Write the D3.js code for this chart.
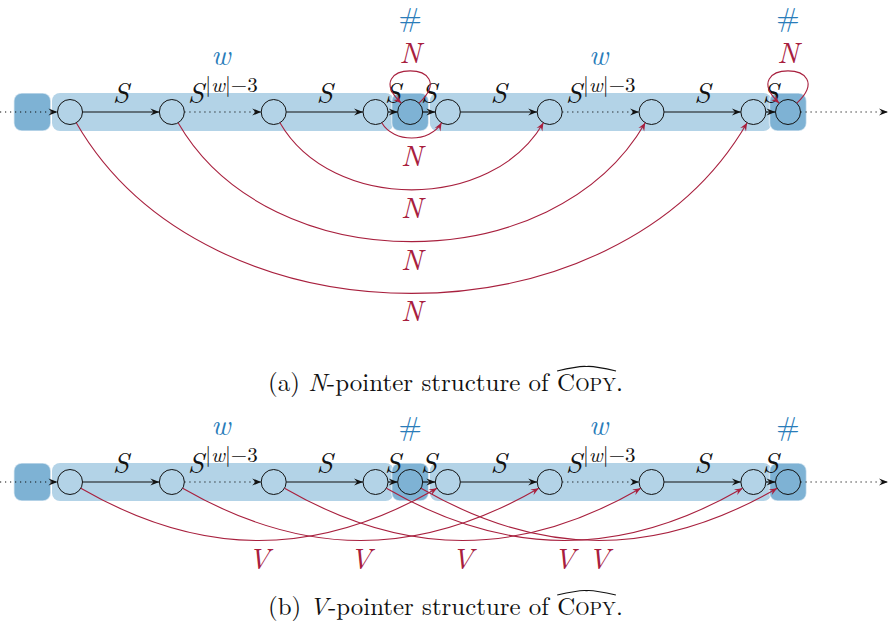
<!DOCTYPE html>
<html><head><meta charset="utf-8">
<script src="https://cdn.jsdelivr.net/npm/d3@7/dist/d3.min.js"></script>
<style>body{margin:0;background:#fff} svg{display:block}</style>
</head><body>
<svg id="c" width="889" height="633"></svg>
<script>
// ---------- data ----------
const nodePos   = [0, 1, 2, 3, 3.34, 3.71, 4.71, 5.71, 6.71, 7.05];
const nodeKind  = ["w","w","w","w","#","w","w","w","w","#"];
const hashBoxPos = [-0.37, 3.34, 7.05];
const wBands    = [[0, 3], [3.71, 6.71]];
const edgeFrom  = [0, 1, 2, 3, 4, 5, 6, 7, 8];
const edgeTo    = [1, 2, 3, 4, 5, 6, 7, 8, 9];
const edgeLabel = ["S", "S^", "S", "S", "S", "S", "S^", "S", "S"];
const edgeStyle = ["solid","dotted","solid","solid","solid","solid","dotted","solid","solid"];
const wLabelAt  = [[1, 2], [6, 7]];
const hashLabelAt = [4, 9];
const nPointers = [[3, 5], [2, 6], [1, 7], [0, 8]];
const nLoops    = [4, 9];
const vPointers = [[0, 5], [1, 6], [2, 7], [3, 8], [4, 9]];
const captions  = [["(a) ", "N", "-pointer structure of "], ["(b) ", "V", "-pointer structure of "]];

// ---------- setup ----------
const W = 889, H = 633;
const svg = d3.select("#c");
const x = d3.scaleLinear().domain([0, 7.05]).range([70, 788]);
const rows = [112, 482];
const R = 12.5;
const LIGHT = "#b3d3e7", DARK = "#7eb2d4", RED = "#a8203e", BLUE = "#2a7cb9", INK = "#111";
const FONT = '"Latin Modern Roman", "Liberation Serif", serif';
const defs = svg.append("defs");
function marker(id, color, len, hw) {
  defs.append("marker").attr("id", id).attr("markerUnits", "userSpaceOnUse")
    .attr("viewBox", `${-len - 1} ${-hw - 1} ${len + 2} ${2 * hw + 2}`)
    .attr("refX", 0).attr("refY", 0)
    .attr("markerWidth", len + 2).attr("markerHeight", 2 * hw + 2)
    .attr("orient", "auto")
    .append("path")
    .attr("d", `M0,0 L${-len},${-hw} L${-len * 0.65},0 L${-len},${hw} Z`)
    .attr("fill", color);
}
marker("ab", INK, 9, 3.6);
marker("ar", RED, 8, 3.3);

function bend(a, b, y, thetaDeg) {
  const t = thetaDeg * Math.PI / 180;
  const x0 = x(nodePos[a]), x3 = x(nodePos[b]);
  const p0 = [x0 + R * Math.cos(t), y + R * Math.sin(t)];
  const p3 = [x3 - R * Math.cos(t), y + R * Math.sin(t)];
  const d = Math.hypot(p3[0] - p0[0], p3[1] - p0[1]);
  const L = 0.3915 * d;
  const p1 = [p0[0] + L * Math.cos(t), p0[1] + L * Math.sin(t)];
  const p2 = [p3[0] - L * Math.cos(t), p3[1] + L * Math.sin(t)];
  const p = d3.path();
  p.moveTo(...p0); p.bezierCurveTo(...p1, ...p2, ...p3);
  const bottom = p0[1] + 0.75 * L * Math.sin(t);
  return {d: p.toString(), midX: (p0[0] + p3[0]) / 2, bottom};
}

function mathText(g, xx, yy, fill, size) {
  return g.append("text").attr("x", xx).attr("y", yy).attr("text-anchor", "middle")
    .style("font-family", FONT).attr("font-size", size).attr("fill", fill);
}

function drawPanel(k) {
  const cy = rows[k];
  const g = svg.append("g");
  g.selectAll(".band").data(wBands).join("rect")
    .attr("x", d => x(d[0]) - 18).attr("y", cy - 19)
    .attr("width", d => x(d[1]) - x(d[0]) + 36).attr("height", 38)
    .attr("rx", 8).attr("fill", LIGHT);
  g.selectAll(".hb").data(hashBoxPos).join("rect")
    .attr("x", d => x(d) - 18.5).attr("y", cy - 19)
    .attr("width", 37).attr("height", 38).attr("rx", 8)
    .attr("fill", DARK).attr("stroke", "#fff").attr("stroke-opacity", 0.55).attr("stroke-width", 1.5);
  g.append("line").attr("x1", 0).attr("x2", x(nodePos[0]) - R).attr("y1", cy).attr("y2", cy)
    .attr("stroke", INK).attr("stroke-width", 1.2).attr("stroke-dasharray", "1.2 3.8")
    .attr("marker-end", "url(#ab)");
  g.append("line").attr("x1", x(nodePos[9]) + R).attr("x2", W - 1).attr("y1", cy).attr("y2", cy)
    .attr("stroke", INK).attr("stroke-width", 1.2).attr("stroke-dasharray", "1.2 3.8")
    .attr("marker-end", "url(#ab)");
  edgeFrom.forEach((a, i) => {
    const b = edgeTo[i];
    g.append("line").attr("x1", x(nodePos[a]) + R).attr("x2", x(nodePos[b]) - R)
      .attr("y1", cy).attr("y2", cy).attr("stroke", INK).attr("stroke-width", 1.2)
      .attr("stroke-dasharray", edgeStyle[i] === "dotted" ? "1.2 3.8" : null)
      .attr("marker-end", "url(#ab)");
  });
  g.selectAll(".nd").data(nodePos).join("circle")
    .attr("cx", d => x(d)).attr("cy", cy).attr("r", R)
    .attr("fill", (d, i) => nodeKind[i] === "#" ? DARK : LIGHT)
    .attr("stroke", INK).attr("stroke-width", 1);
  edgeFrom.forEach((a, i) => {
    const mx = (x(nodePos[a]) + x(nodePos[edgeTo[i]])) / 2;
    const t = mathText(g, mx, cy - 9, INK, 29);
    t.append("tspan").attr("font-style", "italic").text("S");
    if (edgeLabel[i] === "S^") {
      t.append("tspan").attr("font-size", 21).attr("dy", -11).attr("dx", 1).text("|");
      t.append("tspan").attr("font-size", 21).attr("font-style", "italic").text("w");
      t.append("tspan").attr("font-size", 21).text("|\u22123");
    }
  });
  wLabelAt.forEach(([a, b]) => {
    mathText(g, (x(nodePos[a]) + x(nodePos[b])) / 2 - 2, cy - 47, BLUE, 29)
      .attr("font-style", "italic").text("w");
  });
  hashLabelAt.forEach(a => {
    mathText(g, x(nodePos[a]), k === 0 ? cy - 85 : cy - 46, BLUE, 28).text("#");
  });
}

drawPanel(0);
drawPanel(1);

{
  const cy = rows[0];
  nPointers.forEach(([a, b]) => {
    const c = bend(a, b, cy, 60);
    svg.append("path").attr("d", c.d).attr("fill", "none").attr("stroke", RED)
      .attr("stroke-width", 1.1).attr("marker-end", "url(#ar)");
    mathText(svg, c.midX, c.bottom + 28, RED, 29).attr("font-style", "italic").text("N");
  });
  nLoops.forEach(a => {
    const cx = x(nodePos[a]);
    const s = Math.SQRT1_2 * R;
    const p0 = [cx + s, cy - s], p3 = [cx - s, cy - s];
    const p = d3.path();
    p.moveTo(...p0);
    p.bezierCurveTo(p0[0] + 45, p0[1] - 43, p3[0] - 45, p3[1] - 43, ...p3);
    svg.append("path").attr("d", p.toString()).attr("fill", "none").attr("stroke", RED)
      .attr("stroke-width", 1.1).attr("marker-end", "url(#ar)");
    mathText(svg, cx, cy - 49, RED, 29).attr("font-style", "italic").text("N");
  });
}
{
  const cy = rows[1];
  vPointers.forEach(([a, b]) => {
    const c = bend(a, b, cy, 30);
    svg.append("path").attr("d", c.d).attr("fill", "none").attr("stroke", RED)
      .attr("stroke-width", 1.1).attr("marker-end", "url(#ar)");
    mathText(svg, c.midX, c.bottom + 28, RED, 29).attr("font-style", "italic").text("V");
  });
}

function caption(parts, baseY, left, right) {
  function layout(fs) {
    const g = svg.append("g");
    let cx = left;
    const pieces = [
      {t: parts[0], it: false, f: 1},
      {t: parts[1], it: true, f: 1},
      {t: parts[2], it: false, f: 1},
      {t: "C", it: false, f: 1, hat: "start"},
      {t: "OPY", it: false, f: 0.74, hat: "end"},
      {t: ".", it: false, f: 1}
    ];
    let hs = 0, he = 0;
    pieces.forEach(p => {
      const t = g.append("text").attr("x", cx).attr("y", baseY)
        .style("font-family", FONT).style("white-space", "pre").attr("font-size", fs * p.f)
        .attr("font-style", p.it ? "italic" : "normal").attr("fill", INK).text(p.t);
      const w = t.node().getComputedTextLength();
      if (p.hat === "start") hs = cx;
      cx += w;
      if (p.hat === "end") he = cx;
    });
    return {g, width: cx - left, hs, he};
  }
  let r = layout(22);
  const fs = 22 * (right - left) / r.width;
  r.g.remove();
  r = layout(fs);
  const top = baseY - fs * 0.98, base = baseY - fs * 0.8;
  const p = d3.path();
  p.moveTo(r.hs, base);
  p.quadraticCurveTo((r.hs + r.he) / 2 - 6, top - 1, (r.hs + r.he) / 2, top);
  p.quadraticCurveTo((r.hs + r.he) / 2 + 6, top - 1, r.he, base);
  r.g.append("path").attr("d", p.toString()).attr("fill", "none")
    .attr("stroke", INK).attr("stroke-width", 1.1);
}
caption(captions[0], 391, 268, 623);
caption(captions[1], 615, 268, 623);
</script>
</body></html>
